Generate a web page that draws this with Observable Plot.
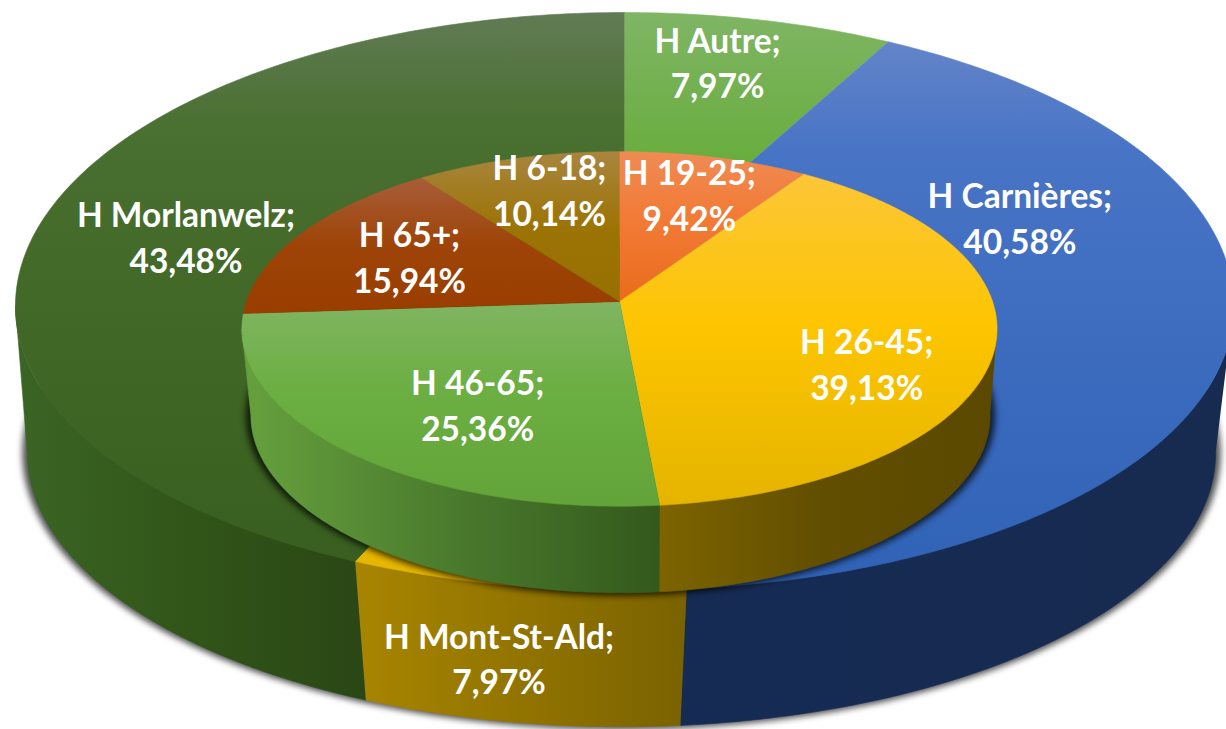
<!DOCTYPE html>
<html><head><meta charset="utf-8">
<script src="https://cdn.jsdelivr.net/npm/d3@7"></script>
<script src="https://cdn.jsdelivr.net/npm/@observablehq/plot@0.6"></script>
<style>html,body{margin:0;padding:0;background:#fff;overflow:hidden}svg{display:block;max-width:none!important}</style>
</head><body><div id="chart"></div>
<script>
// Data: outer ring
const outerNames = ["H Autre", "H Carnières", "H Mont-St-Ald", "H Morlanwelz"];
const outerValues = [7.97, 40.58, 7.97, 43.48];
// Data: inner disc
const innerNames = ["H 19-25", "H 26-45", "H 46-65", "H 65+", "H 6-18"];
const innerValues = [9.42, 39.13, 25.36, 15.94, 10.14];

// Label placement within each slice: fraction of the radius, angle in degrees
const outerLabelRadius = [0.80, 0.693, 1, 0.744];
const outerLabelAngle = [12.1, 74.4, 190.6, 279.1];
const innerLabelRadius = [0.694, 0.72, 0.659, 0.637, 0.728];
const innerLabelAngle = [17.3, 119.6, 211.8, 293.3, 343.4];

// Perspective of each disc edge
const outerTop = {cx: 624, cy: 272, R: 605, S: 286, k: 0.1, kx: 0.115};
const outerBottom = {cx: 621, cy: 429, R: 592, S: 272, k: 0.085, kx: 0.085};
const innerTop = {cx: 619, cy: 301, R: 373, S: 173, k: 0.155, kx: 0.155};
const innerBottom = {cx: 620, cy: 390, R: 366, S: 174, k: 0.14, kx: 0.14};

const rad = Math.PI / 180;
function project(p, deg, r = 1) {
  const u = r * Math.sin(deg * rad), v = -r * Math.cos(deg * rad);
  return {x: p.cx + p.R * u / (1 - p.kx * v), y: p.cy + p.S * v / (1 - p.k * v)};
}
function arc(p, a0, a1, r = 1) {
  const n = Math.max(2, Math.ceil(Math.abs(a1 - a0)));
  return d3.range(n + 1).map(i => project(p, a0 + (a1 - a0) * i / n, r));
}
function spans(values) {
  let c = 0;
  return values.map(v => { const s = c * 3.6; c += v; return [s, c * 3.6]; });
}
function wedge(p, [a0, a1]) {
  return [{x: p.cx, y: p.cy}, ...arc(p, a0, a1)];
}
function side(top, bottom, [a0, a1]) {
  const limit = p => 180 / Math.PI * Math.acos(-p.kx);
  const range = p => [Math.max(a0, limit(p)), Math.min(a1, 360 - limit(p))];
  const [t0, t1] = range(top), [b0, b1] = range(bottom);
  if (t1 <= t0) return null;
  return [...arc(top, t0, t1), ...arc(bottom, b1, b0)];
}
function poly(points, fill, extra = {}) {
  return Plot.line(points, {x: "x", y: "y", fill, stroke: fill, strokeWidth: 0.6, curve: "linear", ...extra});
}

// Gradients
function gradient(id, horizontal, a, b, stops) {
  const g = d3.create("svg:linearGradient").attr("id", id).attr("gradientUnits", "userSpaceOnUse")
    .attr("x1", horizontal ? a : 0).attr("x2", horizontal ? b : 0)
    .attr("y1", horizontal ? 0 : a).attr("y2", horizontal ? 0 : b);
  stops.forEach(([o, c]) => g.append("stop").attr("offset", o).attr("stop-color", c));
  return g.node();
}
const defs = () => {
  const d = d3.create("svg:defs");
  [
    gradient("tAutre", false, 12, 160, [[0, "#7fb564"], [1, "#69ad3e"]]),
    gradient("tCarn", false, 42, 590, [[0, "#6384c9"], [0.2, "#4874c5"], [1, "#2f62b6"]]),
    gradient("tMont", false, 540, 600, [[0, "#e9b900"], [1, "#e3b300"]]),
    gradient("tMorl", false, 12, 565, [[0, "#617b54"], [0.2, "#4a7032"], [0.5, "#426927"], [1, "#385f1f"]]),
    gradient("sMorl", true, 17, 359, [[0, "#3b6524"], [0.5, "#315519"], [1, "#2a4715"]]),
    gradient("sMont", true, 359, 686, [[0, "#a88500"], [1, "#7a6200"]]),
    gradient("sCarn", true, 686, 1226, [[0, "#162b54"], [1, "#172b50"]]),
    gradient("t1925", false, 151, 301, [[0, "#ef8b55"], [0.4, "#f27c38"], [1, "#ea6c1c"]]),
    gradient("t2645", false, 151, 505, [[0, "#fcc640"], [0.5, "#fdc500"], [1, "#e5b400"]]),
    gradient("t4665", false, 300, 505, [[0, "#80b562"], [0.45, "#6bae41"], [1, "#62a439"]]),
    gradient("t65", false, 178, 310, [[0, "#a85d38"], [0.5, "#9e4408"], [1, "#9a3e00"]]),
    gradient("t618", false, 151, 301, [[0, "#a9853f"], [0.5, "#9c7406"], [1, "#967000"]]),
    gradient("s4665", true, 250, 659, [[0, "#659f3d"], [0.5, "#4a7a2d"], [1, "#33591c"]]),
    gradient("s2645", true, 659, 989, [[0, "#7d6400"], [0.5, "#614e00"], [1, "#5b4900"]])
  ].forEach(g => d.node().appendChild(g));
  return d.node();
};

const outerSpans = spans(outerValues), innerSpans = spans(innerValues);
const outerTopFill = ["url(#tAutre)", "url(#tCarn)", "url(#tMont)", "url(#tMorl)"];
const outerSideFill = [null, "url(#sCarn)", "url(#sMont)", "url(#sMorl)"];
const innerTopFill = ["url(#t1925)", "url(#t2645)", "url(#t4665)", "url(#t65)", "url(#t618)"];
const innerSideFill = [null, "url(#s2645)", "url(#s4665)", null, null];

const fmt = v => v.toFixed(2).replace(".", ",") + "%";
const labels = [
  ...outerNames.map((n, i) => {
    let pos = project(outerTop, outerLabelAngle[i], outerLabelRadius[i]);
    if (n === "H Mont-St-Ald") {
      const b = project(outerBottom, outerLabelAngle[i]);
      pos = {x: pos.x, y: pos.y + (b.y - pos.y) * 0.56};
    }
    return {...pos, text: `${n};\n${fmt(outerValues[i])}`};
  }),
  ...innerNames.map((n, i) => ({
    ...project(innerTop, innerLabelAngle[i], innerLabelRadius[i]),
    text: `${n};\n${fmt(innerValues[i])}`
  }))
];

const grow = (p, g) => ({...p, R: p.R + g, S: p.S + g * 0.5});
const chart = Plot.plot({
  width: 1226, height: 729, margin: 0,
  x: {domain: [0, 1226], range: [0, 1226], axis: null},
  y: {domain: [0, 729], range: [0, 729], axis: null},
  style: {background: "#fff"},
  marks: [
    defs,
    // drop shadow of the ring
    poly(arc(grow(outerBottom, 5), 0, 360), "#000", {stroke: "none", opacity: 0.68, imageFilter: "blur(3px)"}),
    // ring side
    ...outerSpans.map((s, i) => outerSideFill[i] && side(outerTop, outerBottom, s) ?
      poly(side(outerTop, outerBottom, s), outerSideFill[i]) : null),
    // ring top
    ...outerSpans.map((s, i) => poly(wedge(outerTop, s), outerTopFill[i])),
    // shadow of the disc on the ring
    poly(arc(grow(innerBottom, 5), 0, 360), "#000", {stroke: "none", opacity: 0.72, imageFilter: "blur(3px)"}),
    // disc side
    ...innerSpans.map((s, i) => innerSideFill[i] && side(innerTop, innerBottom, s) ?
      poly(side(innerTop, innerBottom, s), innerSideFill[i]) : null),
    // disc top
    ...innerSpans.map((s, i) => poly(wedge(innerTop, s), innerTopFill[i])),
    Plot.text(labels, {x: "x", y: "y", text: "text", fill: "#fff", fontFamily: "Lato", fontWeight: 700,
      fontSize: 33.5, lineHeight: 1.36, dy: -4, textAnchor: "middle", lineAnchor: "middle"})
  ]
});
document.getElementById("chart").append(chart);
</script></body></html>
